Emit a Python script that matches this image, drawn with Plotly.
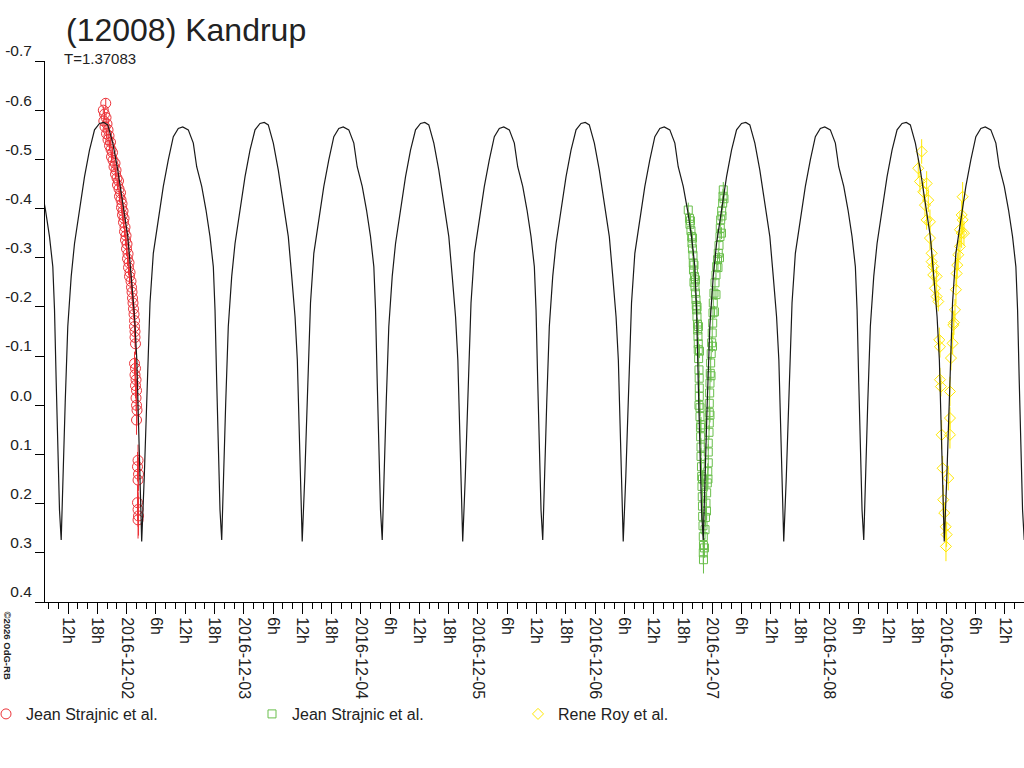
import numpy as np
import pandas as pd
import plotly.graph_objects as go

# ---------------- data ----------------
BASE = pd.Timestamp("2016-12-01 00:00")   # times below are hours since this

title_text = "(12008) Kandrup"
period_label = "T=1.37083"
copyright_text = "©2026 OdG-RB"
period_hours = 32.90        # T = 1.37083 d
model_epoch_h = 27.07       # a light-curve minimum
model_cycles = [-1, 0, 1, 2, 3, 4, 5]

# one rotation of the model light curve (hours after the minimum, magnitude)
model_phase_h = [0.00, 0.53, 1.03, 1.36, 1.70, 2.38, 3.40, 4.43, 5.45, 6.48, 7.50, 8.41,
                 9.55, 10.58, 11.27, 12.30, 13.18, 14.00, 14.68, 15.03, 15.38, 15.70, 16.05,
                 16.40, 16.73, 17.22, 17.75, 18.45, 19.13, 20.15, 21.18, 22.20, 23.23, 24.25,
                 25.13, 25.95, 26.98, 28.00, 29.03, 30.05, 30.75, 31.43, 31.90, 32.25, 32.60]
model_mag = [0.277, 0.145, -0.011, -0.126, -0.208, -0.309, -0.377, -0.445, -0.499, -0.546,
             -0.563, -0.566, -0.560, -0.533, -0.485, -0.445, -0.397, -0.343, -0.282, -0.194,
             -0.046, 0.076, 0.213, 0.274, 0.145, -0.005, -0.160, -0.262, -0.329, -0.397,
             -0.465, -0.519, -0.560, -0.573, -0.575, -0.570, -0.533, -0.478, -0.411, -0.343,
             -0.262, -0.180, -0.092, 0.044, 0.145]

red_name = "Jean Strajnic et al."
red_t = [19.70, 19.20, 19.45, 19.76, 19.31, 19.96, 19.55, 20.17, 19.86, 20.37,
         20.17, 20.68, 20.47, 20.78, 21.09, 20.88, 21.19, 21.60, 21.40, 21.81,
         21.70, 22.01, 22.32, 22.11, 22.42, 22.73, 22.52, 22.83, 23.04, 22.93,
         23.24, 23.14, 23.45, 23.34, 23.65, 23.55, 23.86, 23.75, 24.06, 23.96,
         24.27, 24.16, 24.47, 24.37, 24.68, 24.57, 24.88, 24.98, 25.09, 25.19,
         25.29, 25.39, 25.50, 25.60, 25.60, 25.70, 25.70, 25.80, 25.60, 25.80,
         25.70, 25.91, 25.80, 26.01, 25.91, 26.01, 26.11, 26.01, 26.32, 26.21,
         26.42, 26.32, 26.21, 26.32, 26.42, 26.32]
red_m = [-0.614, -0.600, -0.592, -0.585, -0.578, -0.572, -0.566, -0.560, -0.552, -0.548,
         -0.540, -0.535, -0.528, -0.520, -0.514, -0.505, -0.498, -0.492, -0.485, -0.478,
         -0.470, -0.462, -0.456, -0.448, -0.440, -0.432, -0.425, -0.418, -0.410, -0.402,
         -0.395, -0.387, -0.380, -0.372, -0.362, -0.353, -0.345, -0.336, -0.328, -0.318,
         -0.308, -0.298, -0.290, -0.280, -0.270, -0.262, -0.252, -0.240, -0.230, -0.218,
         -0.208, -0.196, -0.185, -0.172, -0.160, -0.150, -0.138, -0.125, -0.085, -0.075,
         -0.062, -0.052, -0.040, -0.030, -0.015, 0.000, 0.010, 0.030, 0.112, 0.125,
         0.140, 0.152, 0.198, 0.212, 0.225, 0.233]
red_err = [0.010, 0.008, 0.010, 0.009, 0.010, 0.010, 0.008, 0.010, 0.009, 0.010,
           0.010, 0.009, 0.010, 0.010, 0.011, 0.010, 0.010, 0.011, 0.010, 0.012,
           0.010, 0.011, 0.012, 0.010, 0.012, 0.011, 0.012, 0.012, 0.013, 0.012,
           0.012, 0.013, 0.012, 0.013, 0.014, 0.012, 0.014, 0.013, 0.014, 0.015,
           0.014, 0.015, 0.015, 0.016, 0.015, 0.016, 0.017, 0.016, 0.018, 0.017,
           0.018, 0.019, 0.018, 0.020, 0.020, 0.021, 0.020, 0.022, 0.024, 0.022,
           0.025, 0.023, 0.026, 0.024, 0.027, 0.026, 0.028, 0.030, 0.032, 0.030,
           0.034, 0.033, 0.036, 0.035, 0.040, 0.038]

green_name = "Jean Strajnic et al."
green_t = [139.10, 139.35, 139.45, 139.65, 139.80, 139.86, 139.96, 140.07, 140.13, 140.17,
           140.37, 140.27, 140.48, 140.58, 140.68, 140.74, 140.82, 140.89, 140.99, 141.03,
           141.09, 141.15, 141.15, 141.23, 141.30, 141.34, 141.36, 141.36, 141.50, 141.50,
           141.60, 141.64, 141.71, 141.71, 141.81, 141.85, 141.91, 141.97, 142.01, 142.05,
           142.12, 142.18, 142.22, 142.18, 142.22,
           139.55, 139.96, 140.27, 140.58, 140.89, 141.19, 141.40, 141.30, 141.71, 142.01,
           142.42, 142.53, 142.63, 142.73, 142.87, 143.00, 143.10, 143.20, 143.20, 143.20,
           143.35, 143.41, 143.41, 143.41, 143.49, 143.55, 143.61, 143.69, 143.80, 143.90,
           144.01, 144.11, 144.17, 144.23, 144.37, 144.58, 144.78, 144.92, 145.09, 145.25,
           145.40, 145.60, 145.66, 145.74, 145.95, 146.15, 146.22, 146.28,
           142.83, 143.14, 143.55, 143.76, 144.07, 144.47, 144.78, 145.19, 145.50, 145.91,
           146.01, 146.42]
green_m = [-0.397, -0.380, -0.368, -0.355, -0.343, -0.330, -0.318, -0.305, -0.289, -0.275,
           -0.262, -0.250, -0.241, -0.228, -0.215, -0.203, -0.194, -0.180, -0.165, -0.153,
           -0.140, -0.125, -0.113, -0.095, -0.072, -0.055, -0.035, -0.018, 0.005, 0.023,
           0.045, 0.064, 0.085, 0.104, 0.125, 0.145, 0.165, 0.186, 0.205, 0.226,
           0.245, 0.267, 0.285, 0.300, 0.314,
           -0.375, -0.340, -0.285, -0.255, -0.200, -0.160, -0.110, 0.000, 0.040, 0.150,
           0.290, 0.253, 0.228, 0.199, 0.178, 0.158, 0.135, 0.117, 0.095, 0.077,
           0.055, 0.036, 0.015, -0.004, -0.025, -0.045, -0.065, -0.086, -0.105, -0.127,
           -0.147, -0.167, -0.188, -0.208, -0.228, -0.249, -0.265, -0.282, -0.296, -0.309,
           -0.325, -0.343, -0.360, -0.377, -0.395, -0.411, -0.425, -0.438,
           0.215, 0.150, 0.020, -0.060, -0.120, -0.190, -0.225, -0.280, -0.300, -0.350,
           -0.385, -0.420]
green_err = [0.015, 0.012, 0.014, 0.012, 0.013, 0.012, 0.014, 0.013, 0.012, 0.014,
             0.013, 0.014, 0.012, 0.013, 0.014, 0.013, 0.012, 0.014, 0.013, 0.012,
             0.014, 0.013, 0.015, 0.014, 0.016, 0.015, 0.016, 0.015, 0.017, 0.016,
             0.017, 0.016, 0.018, 0.017, 0.018, 0.017, 0.019, 0.018, 0.020, 0.019,
             0.020, 0.021, 0.022, 0.024, 0.028,
             0.012, 0.013, 0.013, 0.012, 0.014, 0.013, 0.014, 0.015, 0.016, 0.017,
             0.020, 0.020, 0.019, 0.018, 0.018, 0.017, 0.017, 0.016, 0.016, 0.015,
             0.015, 0.015, 0.014, 0.014, 0.014, 0.013, 0.013, 0.013, 0.012, 0.012,
             0.012, 0.012, 0.012, 0.012, 0.012, 0.012, 0.011, 0.011, 0.011, 0.011,
             0.011, 0.012, 0.012, 0.012, 0.013, 0.014, 0.015, 0.016,
             0.018, 0.017, 0.015, 0.013, 0.012, 0.012, 0.011, 0.011, 0.011, 0.012,
             0.013, 0.015]

yellow_name = "Rene Roy et al."
yellow_t = [186.94, 186.24, 186.59, 187.96, 187.27, 188.29, 187.62, 187.96, 188.64, 188.64,
            188.99, 188.99, 189.32, 189.32, 190.01, 189.67, 190.01, 190.34, 190.55, 190.69,
            190.69, 190.89, 191.04, 191.24, 191.37, 191.57, 191.86, 192.06, 191.92,
            192.39, 192.74, 192.74, 192.74, 192.95, 193.29, 193.42, 193.56, 193.77, 193.97,
            194.11, 194.24, 194.44, 194.79, 195.14, 195.61, 194.79, 195.34, 195.14, 195.34]
yellow_m = [-0.516, -0.482, -0.455, -0.451, -0.434, -0.417, -0.407, -0.377, -0.373, -0.340,
            -0.309, -0.292, -0.282, -0.265, -0.262, -0.238, -0.221, -0.211, -0.133, -0.119,
            -0.052, -0.038, 0.060, 0.128, 0.192, 0.219, 0.247, 0.263, 0.287,
            0.148, 0.060, 0.026, -0.028, -0.096, -0.126, -0.163, -0.168, -0.194, -0.235,
            -0.268, -0.285, -0.306, -0.323, -0.350, -0.350, -0.357, -0.377, -0.387, -0.424]
yellow_err = [0.025, 0.020, 0.022, 0.025, 0.020, 0.024, 0.022, 0.020, 0.025, 0.022,
              0.024, 0.020, 0.025, 0.022, 0.020, 0.024, 0.022, 0.020, 0.025, 0.022,
              0.024, 0.020, 0.030, 0.025, 0.030, 0.022, 0.028, 0.025, 0.030,
              0.025, 0.028, 0.022, 0.030, 0.025, 0.022, 0.028, 0.025, 0.022, 0.030,
              0.028, 0.025, 0.030, 0.028, 0.030, 0.025, 0.035, 0.030, 0.028, 0.030]

# axis ticks / labels
x_range = ["2016-12-01 07:15", "2016-12-09 15:55"]
tick_times = pd.date_range("2016-12-01 12:00", "2016-12-09 12:00", freq="6h")
tick_labels = [t.strftime("%Y-%m-%d") if t.hour == 0 else f"{t.hour}h" for t in tick_times]
y_tick_vals = [-0.7, -0.6, -0.5, -0.4, -0.3, -0.2, -0.1, 0.0, 0.1, 0.2, 0.3, 0.4]
y_tick_labels = ["-0.7", "-0.6", "-0.5", "-0.4", "-0.3", "-0.2", "-0.1", "0.0",
                 "0.1", "0.2", "0.3", "0.4"]

# ---------------- build ----------------
def to_time(hours):
    return BASE + pd.to_timedelta(np.asarray(hours, dtype=float), unit="h")

model_t, model_y = [], []
for k in model_cycles:
    for ph, mg in zip(model_phase_h, model_mag):
        model_t.append(model_epoch_h + k * period_hours + ph)
        model_y.append(mg)

FONT = "Liberation Sans, Arial, sans-serif"
TXT = "#222222"
RED = "#ec3238"
GREEN = "#6abf4c"
YELLOW = "#ffe800"

fig = go.Figure()

def add_series(t, m, err, name, color, symbol, size):
    fig.add_trace(go.Scatter(
        x=to_time(t), y=m, mode="markers", name=name,
        marker=dict(symbol=symbol, size=size, color=color, line=dict(color=color, width=1)),
        error_y=dict(type="data", array=err, visible=True, color=color, thickness=1, width=0),
    ))

add_series(red_t, red_m, red_err, red_name, RED, "circle-open", 10)
add_series(green_t, green_m, green_err, green_name, GREEN, "square-open", 8)
add_series(yellow_t, yellow_m, yellow_err, yellow_name, YELLOW, "diamond-open", 8.5)

fig.add_trace(go.Scatter(
    x=to_time(model_t), y=model_y, mode="lines", showlegend=False,
    line=dict(color="#1a1a1a", width=1.2), hoverinfo="skip",
))

fig.update_layout(
    width=1024, height=768,
    margin=dict(l=45, r=0, t=61, b=166, autoexpand=False),
    paper_bgcolor="white", plot_bgcolor="white",
    font=dict(family=FONT, color=TXT),
    title=dict(text=title_text, x=66 / 1024, xref="container", xanchor="left",
               y=1 - 30 / 768, yref="container", yanchor="middle",
               font=dict(size=32, family=FONT, color=TXT)),
    showlegend=True,
    legend=dict(orientation="h", x=0, xref="container", xanchor="left",
                y=1 - 697 / 768, yref="container", yanchor="top",
                entrywidth=235, entrywidthmode="pixels", indentation=-14,
                font=dict(size=16, family=FONT, color=TXT),
                bgcolor="rgba(0,0,0,0)", itemwidth=30),
    annotations=[
        dict(text=period_label, xref="paper", yref="paper", x=17 / 979, y=1.0055,
             xanchor="left", yanchor="middle", showarrow=False,
             font=dict(size=15, family=FONT, color=TXT)),
        dict(text="<b>" + copyright_text + "</b>", xref="paper", yref="paper",
             x=-45 / 979, y=-0.0795, xanchor="left", yanchor="middle", textangle=90,
             showarrow=False, font=dict(size=9.5, family=FONT, color=TXT)),
    ],
)

fig.update_xaxes(
    type="date", range=x_range, showgrid=False, zeroline=False, automargin=False,
    showline=True, linecolor="black", linewidth=1,
    tickmode="array", tickvals=tick_times, ticktext=tick_labels,
    ticks="outside", ticklen=11, tickwidth=1, tickcolor="black",
    tickangle=90, tickfont=dict(size=16, family=FONT, color=TXT),
    minor=dict(ticks="outside", ticklen=6, tickwidth=1, tickcolor="black",
               dtick=2 * 3600 * 1000, tick0="2016-12-01 00:00", showgrid=False),
)
# labels sit a little above their ticks in the reference: an empty second line lifts them
fig.update_yaxes(
    range=[0.4, -0.7], showgrid=False, zeroline=False, automargin=False,
    showline=True, linecolor="black", linewidth=1,
    tickmode="array", tickvals=y_tick_vals,
    ticktext=[lbl + "<br> " for lbl in y_tick_labels],
    ticks="outside", ticklen=9, tickwidth=1, tickcolor="black",
    tickfont=dict(size=15.5, family=FONT, color=TXT),
)

fig.write_html("out.html", config={"displayModeBar": False},
               post_script="document.body.style.margin='0px';")
